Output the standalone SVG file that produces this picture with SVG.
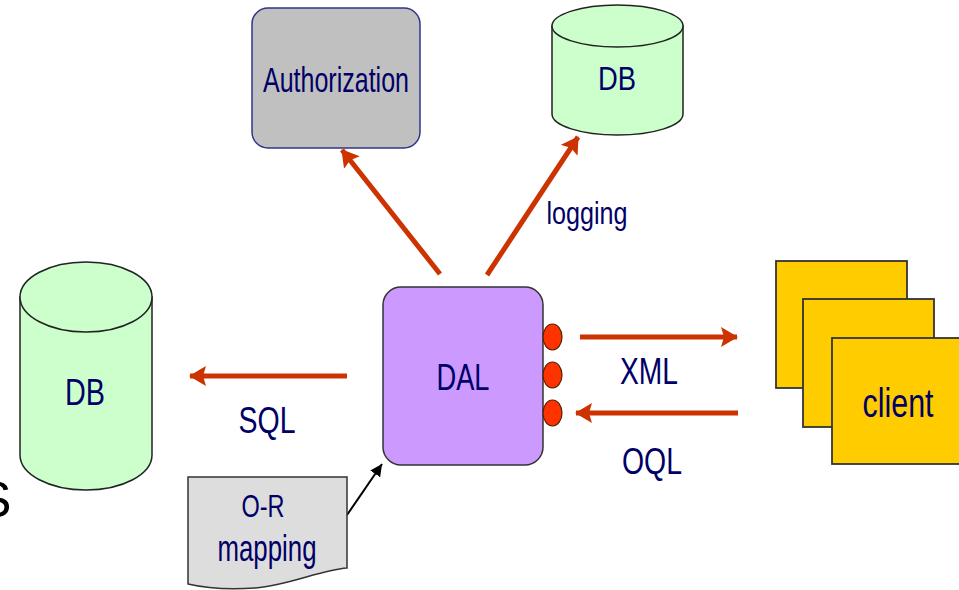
<svg xmlns="http://www.w3.org/2000/svg" width="959" height="590" viewBox="0 0 959 590">
  <style>
    .lbl { font-family: "Liberation Sans", Arial, sans-serif; fill: #000066; text-anchor: middle; }
    .db { fill: #ccffcc; stroke: #222; stroke-width: 1.5; }
    .flow { stroke: #cc3300; stroke-width: 5; fill: none; marker-end: url(#head); }
    .port { fill: #ff3300; stroke: #552200; stroke-width: 1.2; }
    .page { fill: #ffcc00; stroke: #333; stroke-width: 1.8; }
  </style>
  <defs>
    <marker id="head" markerUnits="userSpaceOnUse" markerWidth="20" markerHeight="22" refX="16" refY="10" orient="auto">
      <path d="M0,0 L17,10 L0,20 L3,10 Z" fill="#cc3300"/>
    </marker>
    <marker id="thin" markerUnits="userSpaceOnUse" markerWidth="14" markerHeight="12" refX="12" refY="6" orient="auto">
      <path d="M0,0 L12,6 L0,12 Z" fill="#000"/>
    </marker>
  </defs>

  <rect width="959" height="590" fill="#ffffff"/>

  <!-- stray glyph at the left margin -->
  <text x="-22" y="517" font-family="Liberation Sans, Arial, sans-serif" font-size="50" fill="#000">S</text>

  <g id="connectors">
    <line class="flow" x1="440" y1="274" x2="342" y2="150"/>
    <line class="flow" x1="487" y1="275" x2="578" y2="137"/>
    <line class="flow" x1="347" y1="376" x2="190" y2="376"/>
    <line class="flow" x1="580" y1="337" x2="737" y2="337"/>
    <line class="flow" x1="738" y1="413" x2="576" y2="413"/>
    <line x1="347" y1="515" x2="382" y2="464" stroke="#000" stroke-width="2" marker-end="url(#thin)"/>
  </g>

  <g id="authorization">
    <rect x="252" y="8" width="168" height="140" rx="16" fill="#c0c0c0" stroke="#333388" stroke-width="1.5"/>
    <text class="lbl" x="336" y="92" font-size="35" textLength="146" lengthAdjust="spacingAndGlyphs">Authorization</text>
  </g>

  <g id="db-log">
    <path class="db" d="M552,26 L552,114 A65.5,21 0 0 0 683,114 L683,26 Z"/>
    <ellipse class="db" cx="617.5" cy="26" rx="65.5" ry="21"/>
    <text class="lbl" x="617" y="90" font-size="33" textLength="38" lengthAdjust="spacingAndGlyphs">DB</text>
  </g>
  <text class="lbl" x="587" y="224" font-size="32" textLength="81" lengthAdjust="spacingAndGlyphs">logging</text>

  <g id="db-main">
    <path class="db" d="M20,297 L20,455 A66,35 0 0 0 152,455 L152,297 Z"/>
    <ellipse class="db" cx="86" cy="297" rx="66" ry="35"/>
    <text class="lbl" x="85" y="405" font-size="37" textLength="40" lengthAdjust="spacingAndGlyphs">DB</text>
  </g>
  <text class="lbl" x="267" y="433" font-size="36" textLength="57" lengthAdjust="spacingAndGlyphs">SQL</text>

  <g id="dal">
    <rect x="383" y="287" width="160" height="178" rx="18" fill="#cc99ff" stroke="#333" stroke-width="1.5"/>
    <text class="lbl" x="463" y="390" font-size="37" textLength="53" lengthAdjust="spacingAndGlyphs">DAL</text>
    <ellipse class="port" cx="552.5" cy="337" rx="9.5" ry="13"/>
    <ellipse class="port" cx="552.5" cy="375" rx="9.5" ry="13"/>
    <ellipse class="port" cx="552.5" cy="413" rx="9.5" ry="13"/>
  </g>
  <text class="lbl" x="649" y="384" font-size="37" textLength="58" lengthAdjust="spacingAndGlyphs">XML</text>
  <text class="lbl" x="652" y="474" font-size="36" textLength="60" lengthAdjust="spacingAndGlyphs">OQL</text>

  <g id="client">
    <rect class="page" x="776" y="261" width="131" height="127"/>
    <rect class="page" x="803" y="299" width="131" height="128"/>
    <rect class="page" x="832" y="338" width="131" height="126"/>
    <text class="lbl" x="898" y="417" font-size="40" textLength="71" lengthAdjust="spacingAndGlyphs">client</text>
  </g>

  <g id="or-mapping">
    <path d="M188,477 L347,477 L347,568 C320,570 290,585 255,588 C225,590 205,588 188,584 Z" fill="#dddddd" stroke="#333" stroke-width="1.5"/>
    <text class="lbl" x="263" y="517" font-size="31" textLength="43" lengthAdjust="spacingAndGlyphs">O-R</text>
    <text class="lbl" x="267" y="561" font-size="37" textLength="99" lengthAdjust="spacingAndGlyphs">mapping</text>
  </g>
</svg>
